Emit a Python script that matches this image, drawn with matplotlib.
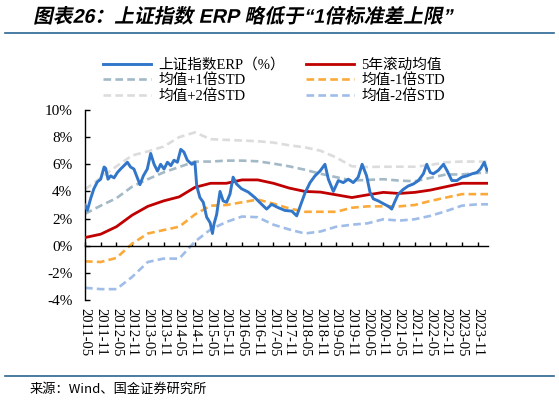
import matplotlib
matplotlib.use('Agg')
import matplotlib.pyplot as plt
from matplotlib.lines import Line2D
from matplotlib.patheffects import AbstractPathEffect
from matplotlib.transforms import Affine2D

plt.rcParams['font.family'] = ['Liberation Serif', 'Noto Sans CJK SC']

# ---------------- data ----------------
tick_labels = ['2011-05', '2011-11', '2012-05', '2012-11', '2013-05', '2013-11',
               '2014-05', '2014-11', '2015-05', '2015-11', '2016-05', '2016-11',
               '2017-05', '2017-11', '2018-05', '2018-11', '2019-05', '2019-11',
               '2020-05', '2020-11', '2021-05', '2021-11', '2022-05', '2022-11',
               '2023-05', '2023-11']

# months since 2011-05 for the band series
band_months = [0, 6, 12, 18, 24, 30, 36, 42, 48, 54, 60, 66, 72, 78, 84, 90, 96,
               102, 108, 114, 120, 126, 132, 138, 144, 150, 154]
mean_5y = [0.6, 0.85, 1.4, 2.25, 2.9, 3.3, 3.6, 4.3, 4.6, 4.6, 4.85, 4.85, 4.6,
           4.25, 4.0, 3.95, 3.75, 3.55, 3.75, 3.93, 3.85, 3.93, 4.1, 4.35, 4.6,
           4.6, 4.6]
plus1_std = [2.35, 2.95, 3.5, 4.35, 4.9, 5.4, 5.8, 6.2, 6.2, 6.27, 6.27, 6.22,
             6.05, 5.85, 5.6, 5.3, 5.05, 4.8, 4.85, 4.9, 4.8, 4.75, 5.0, 5.25,
             5.25, 5.35, 5.4]
plus2_std = [4.15, 5.0, 5.85, 6.65, 6.95, 7.3, 8.0, 8.35, 7.85, 7.8, 7.75, 7.7,
             7.6, 7.4, 7.25, 7.0, 6.5, 5.85, 5.8, 5.82, 5.82, 5.82, 5.95, 6.15,
             6.2, 6.2, 6.2]
minus1_std = [-1.15, -1.2, -0.9, 0.15, 0.9, 1.15, 1.4, 2.3, 2.95, 3.0, 3.2, 3.4,
              3.1, 2.75, 2.5, 2.5, 2.5, 2.8, 2.9, 2.9, 2.9, 3.0, 3.3, 3.55, 3.8,
              3.8, 3.8]
minus2_std = [-3.1, -3.2, -3.2, -2.3, -1.2, -0.95, -0.95, 0.3, 1.2, 1.75, 2.15,
              2.1, 1.55, 1.2, 0.9, 1.05, 1.4, 1.55, 1.65, 1.95, 1.85, 1.95, 2.2,
              2.55, 2.95, 3.05, 3.05]

# ERP series (months since 2011-05, value in %)
erp_months = [0, 0.9, 2.2, 3.4, 4.7, 6.0, 7.3, 7.9, 8.8, 9.8, 11.1, 12.4, 13.6,
              14.9, 16.2, 17.4, 18.7, 20.0, 21.0, 22.3, 23.8, 25.1, 26.4, 27.7,
              28.9, 30.2, 31.5, 32.8, 34.0, 35.3, 36.6, 37.8, 39.1, 40.8, 42.0,
              42.7, 43.9, 45.2, 46.5, 47.8, 48.7, 49.3, 50.3, 51.6, 52.8, 54.1,
              55.4, 56.6, 57.9, 59.8, 62.4, 64.9, 67.5, 69.4, 71.3, 73.9, 76.4,
              79.0, 80.9, 82.2, 84.1, 86.0, 87.9, 89.8, 91.7, 93.0, 94.9, 96.8,
              98.7, 100.6, 102.5, 104.4, 105.9, 107.6, 108.9, 110.2, 112.1,
              114.0, 116.0, 117.2, 118.5, 119.7, 121.6, 123.5, 125.5, 127.4,
              129.3, 130.6, 131.9, 133.1, 135.0, 137.0, 138.3, 140.2, 142.1,
              144.0, 146.0, 147.9, 149.8, 151.1, 152.6, 153.6, 154.0]
erp_values = [3.0, 2.6, 3.5, 4.2, 4.7, 4.9, 5.8, 5.7, 4.9, 5.15, 5.0, 5.4, 5.65,
              5.9, 6.15, 5.8, 5.65, 5.0, 4.5, 5.15, 5.65, 6.8, 6.0, 5.5, 6.0,
              5.65, 6.15, 5.9, 6.3, 6.15, 7.1, 6.9, 6.3, 6.0, 6.15, 4.4, 3.55,
              3.2, 2.1, 1.7, 0.9, 1.6, 2.3, 4.0, 3.3, 3.2, 3.8, 5.05, 4.55, 4.2,
              3.95, 3.55, 3.05, 2.7, 3.05, 2.8, 2.6, 2.55, 2.2, 2.9, 3.9, 4.65,
              5.15, 5.5, 6.0, 4.9, 4.0, 4.8, 4.65, 4.9, 4.65, 5.05, 6.0, 5.15,
              3.95, 3.45, 3.3, 3.1, 2.9, 2.7, 3.3, 3.8, 4.15, 4.4, 4.55, 4.8,
              5.3, 6.0, 5.4, 5.3, 5.55, 6.0, 5.55, 4.8, 4.8, 5.05, 5.15, 5.3,
              5.4, 5.65, 6.15, 5.55, 5.6]

y_ticks = [-4, -2, 0, 2, 4, 6, 8, 10]


class Skew(AbstractPathEffect):
    """Fake italic: shear glyph paths around a display-space baseline."""
    def __init__(self, deg, y0):
        super().__init__()
        self.deg = deg
        self.y0 = y0

    def draw_path(self, renderer, gc, tpath, affine, rgbFace=None):
        sk = (Affine2D().translate(0, -self.y0).skew_deg(self.deg, 0)
              .translate(0, self.y0))
        renderer.draw_path(gc, tpath, affine + sk, rgbFace)


# ---------------- figure ----------------
W, H = 559, 404
fig = plt.figure(figsize=(W / 100, H / 100), dpi=100)
ax = fig.add_axes([85 / W, 1 - 300 / H, (488 - 85) / W, (300 - 110) / H])

lw = 1.9
dash = (2.9, 1.6)
l_p2, = ax.plot(band_months, plus2_std, color='#dcdcdc', lw=lw, dashes=dash, zorder=2)
l_p1, = ax.plot(band_months, plus1_std, color='#a3b9c6', lw=lw, dashes=dash, zorder=2)
l_m1, = ax.plot(band_months, minus1_std, color='#fbaa3a', lw=lw, dashes=dash, zorder=2)
l_m2, = ax.plot(band_months, minus2_std, color='#9fbde8', lw=lw, dashes=dash, zorder=2)
l_mean, = ax.plot(band_months, mean_5y, color='#c00000', lw=2.0, zorder=3)
l_erp, = ax.plot(erp_months, erp_values, color='#3276c9', lw=2.1, zorder=4)

ax.set_xlim(0, 154)
ax.set_ylim(-4, 10)
ax.set_yticks(y_ticks)
ax.set_yticklabels([f'{v}%' for v in y_ticks])

for s in ['top', 'right']:
    ax.spines[s].set_visible(False)
ax.spines['bottom'].set_position(('data', 0))
ax.spines['left'].set_linewidth(1.0)
ax.spines['bottom'].set_linewidth(1.0)

tick_pos = band_months[:len(tick_labels)]
ax.set_xticks(tick_pos)
ax.tick_params(axis='x', direction='in', length=3.2, width=1.0, labelbottom=False)
ax.tick_params(axis='y', direction='in', length=3.6, width=1.0, labelsize=11, pad=9)

sec = ax.secondary_xaxis('bottom')
sec.set_xticks(tick_pos)
sec.set_xticklabels(tick_labels, rotation=270, fontsize=10.5)
sec.tick_params(length=0, pad=6)
sec.spines['bottom'].set_visible(False)

handles = [l_erp, l_p1, l_p2, l_mean, l_m1, l_m2]
labels = ['上证指数ERP（%）', '均值+1倍STD', '均值+2倍STD',
          '5年滚动均值', '均值-1倍STD', '均值-2倍STD']
fig.legend(handles, labels, ncol=2, loc='upper center',
           bbox_to_anchor=(0.49, 1 - 52 / H), frameon=False, fontsize=10.5,
           handlelength=3.3, handletextpad=0.5, columnspacing=1.45,
           labelspacing=0.12, borderaxespad=0)

# title, separators, source
title_y = 1 - 17 / H
fig.text(33 / W, title_y, '图表26：上证指数 ERP 略低于“1倍标准差上限”',
         fontsize=14.2, fontweight='bold', va='center', ha='left',
         family=['Liberation Sans', 'Noto Sans CJK SC'],
         path_effects=[Skew(12, title_y * H - 6)])
fig.add_artist(Line2D([5 / W, 554 / W], [1 - 33 / H] * 2, transform=fig.transFigure,
                      color='#2a6592', lw=1.2))
fig.add_artist(Line2D([5 / W, 554 / W], [1 - 376 / H] * 2, transform=fig.transFigure,
                      color='#2a6592', lw=1.2))
fig.text(30 / W, 1 - 389 / H, '来源：Wind、国金证券研究所', fontsize=9.5,
         va='center', ha='left', family=['Noto Sans CJK SC', 'DejaVu Sans'])

fig.savefig('out.png', dpi=100)
